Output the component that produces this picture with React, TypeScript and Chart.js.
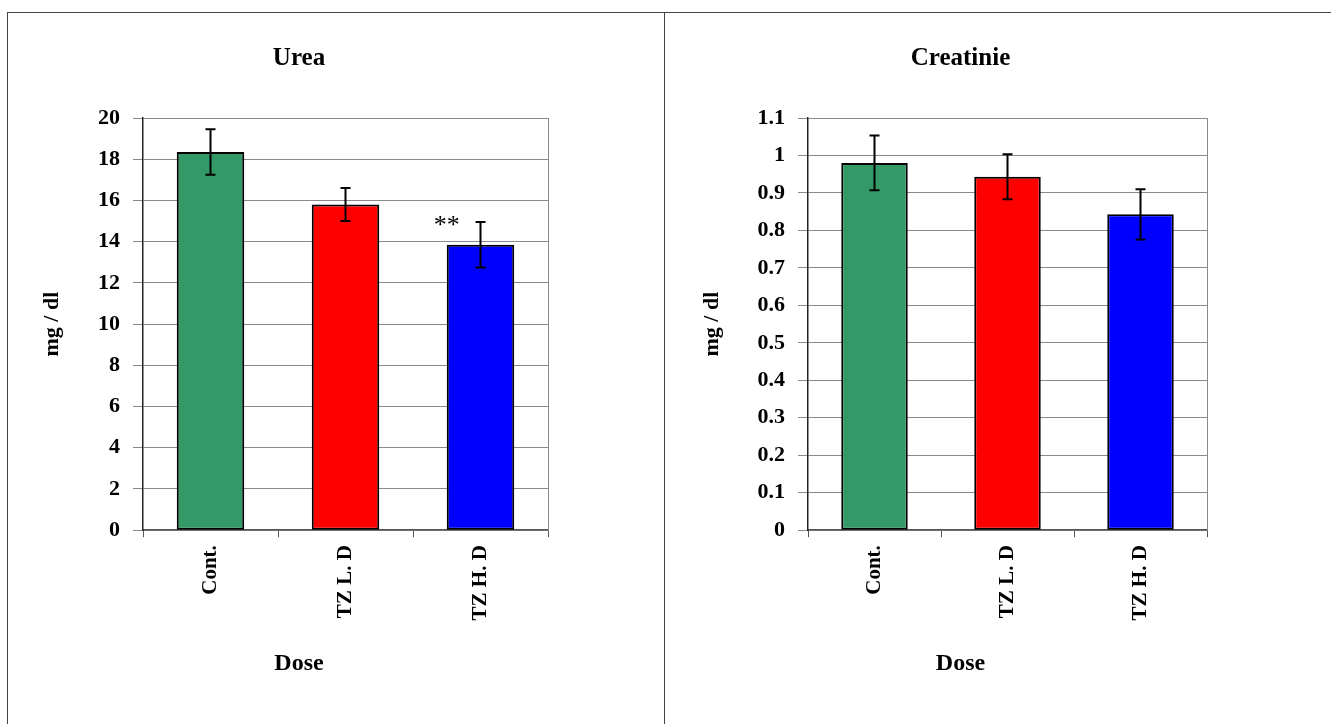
import React, { useEffect, useRef } from 'react';
import { Chart, registerables } from 'chart.js';

Chart.register(...registerables);

const categories = ['Cont.', 'TZ L. D', 'TZ H. D'];
const barColors = ['#339966', '#FF0000', '#0000FF'];

const ureaValues = [18.35, 15.8, 13.85];
const ureaErrors = [1.1, 0.8, 1.1];
const ureaMarks = ['', '', '**'];

const creatValues = [0.98, 0.943, 0.843];
const creatErrors = [0.073, 0.06, 0.067];
const creatMarks = ['', '', ''];

const FONT = "'Liberation Serif', 'Times New Roman', serif";

type PanelProps = {
  title: string;
  values: number[];
  errors: number[];
  marks: string[];
  yMax: number;
  yStep: number;
  width: number;
  height: number;
  padLeft: number;
  padRight: number;
  yAxisWidth: number;
  yTitlePad: number;
};

const errorBarPlugin = {
  id: 'errorBars',
  afterDatasetsDraw(chart: any) {
    const ctx = chart.ctx;
    const meta = chart.getDatasetMeta(0);
    const ys = chart.scales.y;
    const ds = chart.data.datasets[0] as any;
    ctx.save();
    ctx.strokeStyle = '#000';
    ctx.lineWidth = 2;
    meta.data.forEach((el: any, i: number) => {
      const v = ds.data[i];
      const e = ds.errors[i];
      const yt = ys.getPixelForValue(v + e);
      const yb = ys.getPixelForValue(v - e);
      const x = el.x;
      ctx.beginPath();
      ctx.moveTo(x, yt);
      ctx.lineTo(x, yb);
      ctx.moveTo(x - 5, yt);
      ctx.lineTo(x + 5, yt);
      ctx.moveTo(x - 5, yb);
      ctx.lineTo(x + 5, yb);
      ctx.stroke();
      const m = ds.marks[i];
      if (m) {
        ctx.fillStyle = '#000';
        ctx.font = `26px ${FONT}`;
        ctx.textAlign = 'center';
        ctx.textBaseline = 'middle';
        ctx.fillText(m, x - el.width / 2, yt + 4);
      }
    });
    ctx.restore();
  },
};

const frameRightPlugin = {
  id: 'frameRight',
  afterDraw(chart: any) {
    const { ctx, chartArea } = chart;
    ctx.save();
    ctx.strokeStyle = '#8a8a8a';
    ctx.lineWidth = 1;
    ctx.beginPath();
    ctx.moveTo(Math.round(chartArea.right) + 0.5, chartArea.top);
    ctx.lineTo(Math.round(chartArea.right) + 0.5, chartArea.bottom);
    ctx.stroke();
    ctx.restore();
  },
};

function Panel(p: PanelProps) {
  const ref = useRef<HTMLCanvasElement>(null);
  useEffect(() => {
    if (!ref.current) return;
    const chart = new Chart(ref.current, {
      type: 'bar',
      data: {
        labels: categories,
        datasets: [
          {
            data: p.values,
            errors: p.errors,
            marks: p.marks,
            backgroundColor: barColors,
            borderColor: '#000',
            borderWidth: 2,
            borderSkipped: false,
            barPercentage: 0.5,
            categoryPercentage: 1,
          } as any,
        ],
      },
      options: {
        animation: false,
        responsive: false,
        maintainAspectRatio: false,
        layout: { padding: { left: p.padLeft, right: p.padRight, top: 0, bottom: 0 } },
        plugins: {
          legend: { display: false },
          tooltip: { enabled: false },
          title: {
            display: true,
            text: p.title,
            color: '#000',
            font: { family: FONT, size: 25, weight: 'bold' },
            padding: { top: 31, bottom: 44 },
          },
          subtitle: {
            display: true,
            position: 'bottom',
            text: 'Dose',
            color: '#000',
            font: { family: FONT, size: 24, weight: 'bold' },
            padding: { top: 0, bottom: 46 },
          },
        },
        scales: {
          x: {
            offset: true,
            grid: {
              offset: true,
              drawOnChartArea: false,
              drawTicks: true,
              tickLength: 7,
              color: '#555',
            },
            border: { color: '#555', width: 1.5 },
            ticks: {
              maxRotation: 90,
              minRotation: 90,
              padding: 8,
              color: '#000',
              font: { family: FONT, size: 21, weight: 'bold' },
            },
            afterFit(scale: any) {
              scale.height = 119;
            },
          },
          y: {
            min: 0,
            max: p.yMax,
            grid: { color: '#8a8a8a', lineWidth: 1, tickLength: 10 },
            border: { color: '#222', width: 1.5 },
            ticks: {
              stepSize: p.yStep,
              color: '#000',
              padding: 13,
              font: { family: FONT, size: 22, weight: 'bold' },
              callback: (v: any) => String(Math.round(Number(v) * 10) / 10),
            },
            title: {
              display: true,
              text: 'mg / dl',
              color: '#000',
              font: { family: FONT, size: 22, weight: 'bold' },
              padding: { top: p.yTitlePad, bottom: 0 },
            },
            afterFit(scale: any) {
              scale.width = p.yAxisWidth;
            },
          },
        },
      },
      plugins: [errorBarPlugin, frameRightPlugin],
    });
    return () => chart.destroy();
  }, []);
  return <canvas ref={ref} width={p.width} height={p.height} style={{ display: 'block', width: p.width, height: p.height }} />;
}

export default function App() {
  return (
    <div style={{ position: 'absolute', left: 0, top: 0, width: 1331, height: 724, background: '#fff', overflow: 'hidden' }}>
      <div style={{ position: 'absolute', left: 7, top: 12, width: 657, height: 712, borderLeft: '1px solid #444', borderTop: '1px solid #444' }}>
        <Panel title="Urea" values={ureaValues} errors={ureaErrors} marks={ureaMarks} yMax={20} yStep={2}
          width={657} height={711} padLeft={42} padRight={117} yAxisWidth={93} yTitlePad={-11} />
      </div>
      <div style={{ position: 'absolute', left: 664, top: 12, width: 667, height: 712, borderLeft: '1px solid #444', borderTop: '1px solid #444' }}>
        <Panel title="Creatinie" values={creatValues} errors={creatErrors} marks={creatMarks} yMax={1.1} yStep={0.1}
          width={666} height={711} padLeft={49} padRight={124} yAxisWidth={94} yTitlePad={-15} />
      </div>
    </div>
  );
}
